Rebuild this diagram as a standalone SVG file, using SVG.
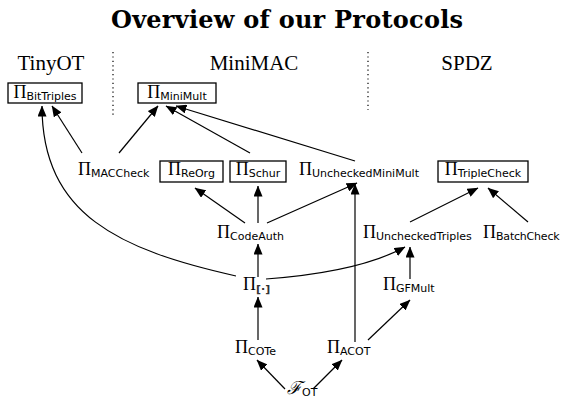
<svg xmlns="http://www.w3.org/2000/svg" width="563" height="408" viewBox="0 0 563 408">
<style>
.title{font-family:"DejaVu Serif","Liberation Serif",serif;font-weight:bold;font-size:24px;fill:#000}
.head{font-family:"Liberation Serif",serif;font-size:21px;fill:#000}
.lbl{font-family:"Liberation Serif",serif;font-size:18px;fill:#000}
.sub{font-family:"DejaVu Sans","Liberation Sans",sans-serif;font-size:11px}
.box{fill:#fff;stroke:#000;stroke-width:1.3}
.edge{fill:none;stroke:#000;stroke-width:1.2;marker-end:url(#ah)}
.dot{stroke:#000;stroke-width:1.2;stroke-dasharray:1.2 3.2}
</style>
<defs>
<marker id="ah" markerUnits="userSpaceOnUse" markerWidth="11" markerHeight="9" refX="10.5" refY="4.5" orient="auto">
<path d="M0,0 L11,4.5 L0,9 z" fill="#000"/>
</marker>
</defs>
<rect width="563" height="408" fill="#fff"/>
<text class="title" x="287" y="28" text-anchor="middle" textLength="352" lengthAdjust="spacing">Overview of our Protocols</text>
<g id="headings">
<text class="head" x="51" y="70" text-anchor="middle">TinyOT</text>
<text class="head" x="254" y="70" text-anchor="middle">MiniMAC</text>
<text class="head" x="467" y="70" text-anchor="middle">SPDZ</text>
<line class="dot" x1="113" y1="52" x2="113" y2="118"/>
<line class="dot" x1="368" y1="52" x2="368" y2="110"/>
</g>
<g id="connectors">
<line class="edge" x1="82" y1="153" x2="52" y2="106"/>
<line class="edge" x1="119" y1="153" x2="158" y2="106"/>
<line class="edge" x1="250" y1="153" x2="166" y2="106"/>
<line class="edge" x1="355" y1="161" x2="176" y2="106"/>
<line class="edge" x1="245" y1="223" x2="195" y2="188"/>
<line class="edge" x1="258" y1="223" x2="258" y2="186"/>
<line class="edge" x1="267" y1="223" x2="357" y2="183"/>
<line class="edge" x1="258" y1="277" x2="258" y2="244"/>
<path class="edge" d="M236,276 C120,250 42,215 42,106"/>
<path class="edge" d="M266,279 C320,275 372,265 405,247"/>
<line class="edge" x1="355" y1="342" x2="355" y2="184"/>
<line class="edge" x1="410" y1="279" x2="410" y2="247"/>
<line class="edge" x1="410" y1="222" x2="478" y2="188"/>
<line class="edge" x1="528" y1="222" x2="488" y2="188"/>
<line class="edge" x1="258" y1="340" x2="258" y2="297"/>
<line class="edge" x1="368" y1="340" x2="410" y2="300"/>
<line class="edge" x1="285" y1="389" x2="257" y2="360"/>
<line class="edge" x1="313" y1="389" x2="342" y2="360"/>
</g>
<g id="BitTriples">
<rect class="box" x="8" y="83" width="74" height="20"/>
<text class="lbl" x="45" y="98" text-anchor="middle">Π<tspan class="sub" dy="2">BitTriples</tspan></text>
</g>
<g id="MiniMult">
<rect class="box" x="138" y="83" width="78" height="20"/>
<text class="lbl" x="177" y="98" text-anchor="middle">Π<tspan class="sub" dy="2">MiniMult</tspan></text>
</g>
<g id="MACCheck">
<text class="lbl" x="78" y="175">Π<tspan class="sub" dy="2">MACCheck</tspan></text>
</g>
<g id="ReOrg">
<rect class="box" x="160" y="161" width="63" height="21"/>
<text class="lbl" x="191.5" y="175" text-anchor="middle">Π<tspan class="sub" dy="2">ReOrg</tspan></text>
</g>
<g id="Schur">
<rect class="box" x="230" y="161" width="56" height="21"/>
<text class="lbl" x="258" y="175" text-anchor="middle">Π<tspan class="sub" dy="2">Schur</tspan></text>
</g>
<g id="UncheckedMiniMult">
<text class="lbl" x="299" y="175">Π<tspan class="sub" dy="2">UncheckedMiniMult</tspan></text>
</g>
<g id="TripleCheck">
<rect class="box" x="438" y="161" width="90" height="21"/>
<text class="lbl" x="483" y="175" text-anchor="middle">Π<tspan class="sub" dy="2">TripleCheck</tspan></text>
</g>
<g id="CodeAuth">
<text class="lbl" x="217" y="238">Π<tspan class="sub" dy="2">CodeAuth</tspan></text>
</g>
<g id="UncheckedTriples">
<text class="lbl" x="363" y="238">Π<tspan class="sub" dy="2">UncheckedTriples</tspan></text>
</g>
<g id="BatchCheck">
<text class="lbl" x="483" y="238">Π<tspan class="sub" dy="2" letter-spacing="-0.2">BatchCheck</tspan></text>
</g>
<g id="Share">
<text class="lbl" x="243" y="290">Π<tspan class="sub" dy="3" font-weight="bold" fill="#333">[·]</tspan></text>
</g>
<g id="GFMult">
<text class="lbl" x="383" y="290">Π<tspan class="sub" dy="2">GFMult</tspan></text>
</g>
<g id="COTe">
<text class="lbl" x="235" y="353">Π<tspan class="sub" dy="2">COTe</tspan></text>
</g>
<g id="ACOT">
<text class="lbl" x="327" y="353">Π<tspan class="sub" dy="2">ACOT</tspan></text>
</g>
<g id="FOT">
<text class="lbl" x="287" y="394" font-family="DejaVu Serif,serif" font-style="italic">ℱ<tspan class="sub" dy="2" font-style="normal">OT</tspan></text>
</g>
</svg>
